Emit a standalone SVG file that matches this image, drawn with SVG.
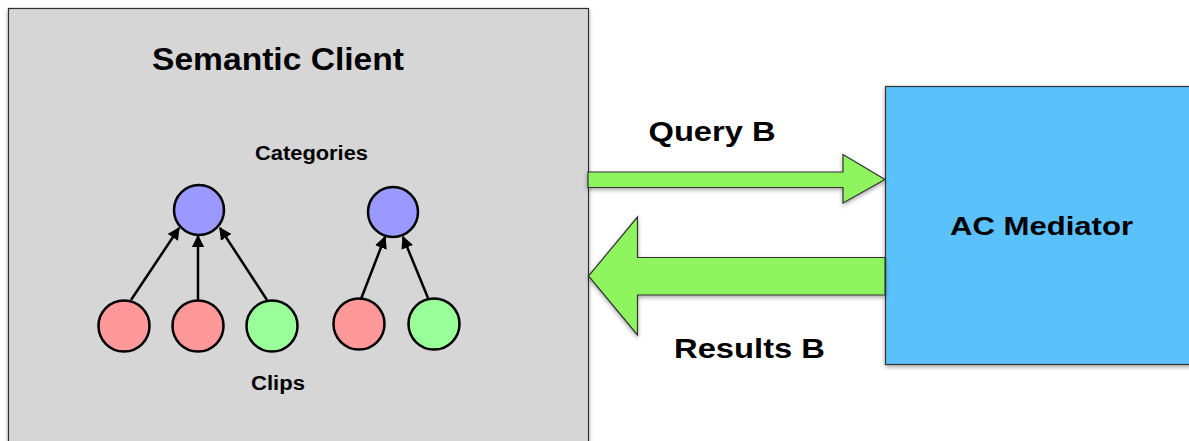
<svg xmlns="http://www.w3.org/2000/svg" width="1189" height="441" viewBox="0 0 1189 441">
<defs>
<filter id="sh" x="-10%" y="-10%" width="120%" height="130%">
<feDropShadow dx="0" dy="2" stdDeviation="2" flood-color="#000" flood-opacity="0.35"/>
</filter>
<marker id="ah" viewBox="0 0 10 10" refX="9" refY="5" markerWidth="5" markerHeight="5" orient="auto" markerUnits="strokeWidth">
<path d="M0,0 L10,5 L0,10 z" fill="#000"/>
</marker>
</defs>
<style>
text{font-family:"Liberation Sans",Arial,sans-serif;font-weight:bold;fill:#000;text-anchor:middle}
.box{stroke:#333;stroke-width:1.2;filter:url(#sh)}
.c{stroke:#000;stroke-width:2.5}
.blue{fill:#9999ff}.red{fill:#ff9999}.green{fill:#99ff99}
.edge{stroke:#000;stroke-width:2.5;fill:none;marker-end:url(#ah)}
.flow{fill:#8ef55e;stroke:#333;stroke-width:1.2;filter:url(#sh)}
</style>
<rect width="1189" height="441" fill="#fff"/>
<g id="semantic-client">
<rect class="box" x="8.5" y="8.5" width="580" height="440" fill="#d6d6d6"/>
<text x="278" y="70" font-size="32" textLength="252" lengthAdjust="spacingAndGlyphs">Semantic Client</text>
<text x="311.5" y="160" font-size="20" textLength="113" lengthAdjust="spacingAndGlyphs">Categories</text>
<text x="278" y="390" font-size="20" textLength="54" lengthAdjust="spacingAndGlyphs">Clips</text>
</g>
<g id="ac-mediator">
<rect class="box" x="885.5" y="86.5" width="310" height="278" fill="#5ac1fb"/>
<text x="1041.5" y="234.5" font-size="26" textLength="183" lengthAdjust="spacingAndGlyphs">AC Mediator</text>
</g>
<g id="cat1"><circle class="c blue" cx="199" cy="210" r="25"/></g>
<g id="cat2"><circle class="c blue" cx="393" cy="212" r="25"/></g>
<g id="clip1"><circle class="c red" cx="124" cy="326" r="25.5"/></g>
<g id="clip2"><circle class="c red" cx="198" cy="326" r="25.5"/></g>
<g id="clip3"><circle class="c green" cx="272" cy="326" r="25.5"/></g>
<g id="clip4"><circle class="c red" cx="359" cy="324" r="25.5"/></g>
<g id="clip5"><circle class="c green" cx="434" cy="324" r="25.5"/></g>
<g id="connectors">
<line class="edge" x1="131" y1="300" x2="179" y2="228"/>
<line class="edge" x1="198" y1="300" x2="198" y2="236"/>
<line class="edge" x1="267" y1="300" x2="220" y2="228"/>
<line class="edge" x1="361" y1="299" x2="385" y2="237"/>
<line class="edge" x1="428" y1="298" x2="403" y2="237"/>
<path class="flow" d="M588,172 L843,172 L843,154.5 L885,179.5 L843,203 L843,187.5 L588,187.5 Z"/>
<path class="flow" d="M885,257.5 L637.5,257.5 L637.5,217 L588.5,276 L637.5,335 L637.5,295 L885,295 Z"/>
<text x="712" y="141" font-size="28" textLength="127" lengthAdjust="spacingAndGlyphs">Query B</text>
<text x="749.5" y="358" font-size="28" textLength="151" lengthAdjust="spacingAndGlyphs">Results B</text>
</g>
</svg>
